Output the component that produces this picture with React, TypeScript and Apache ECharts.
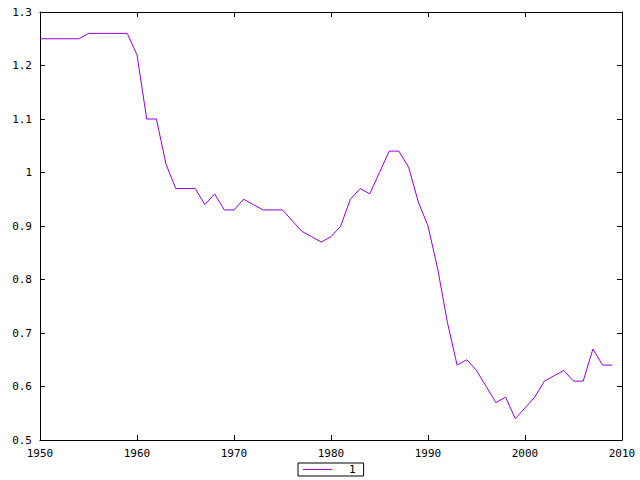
import React, { useEffect, useRef } from "react";
import * as echarts from "echarts";

const years: number[] = [
  1950, 1951, 1952, 1953, 1954, 1955, 1956, 1957, 1958, 1959,
  1960, 1961, 1962, 1963, 1964, 1965, 1966, 1967, 1968, 1969,
  1970, 1971, 1972, 1973, 1974, 1975, 1976, 1977, 1978, 1979,
  1980, 1981, 1982, 1983, 1984, 1985, 1986, 1987, 1988, 1989,
  1990, 1991, 1992, 1993, 1994, 1995, 1996, 1997, 1998, 1999,
  2000, 2001, 2002, 2003, 2004, 2005, 2006, 2007, 2008, 2009,
];

const values: number[] = [
  1.25, 1.25, 1.25, 1.25, 1.25, 1.26, 1.26, 1.26, 1.26, 1.26,
  1.22, 1.10, 1.10, 1.015, 0.97, 0.97, 0.97, 0.94, 0.96, 0.93,
  0.93, 0.95, 0.94, 0.93, 0.93, 0.93, 0.91, 0.89, 0.88, 0.87,
  0.88, 0.90, 0.95, 0.97, 0.96, 1.00, 1.04, 1.04, 1.01, 0.945,
  0.90, 0.82, 0.72, 0.64, 0.65, 0.63, 0.60, 0.57, 0.58, 0.54,
  0.56, 0.58, 0.61, 0.62, 0.63, 0.61, 0.61, 0.67, 0.64, 0.64,
];

const seriesName = "1";
const xTicks = { min: 1950, max: 2010, interval: 10 };
const yTicks = { min: 0.5, max: 1.3, interval: 0.1 };

const FONT = "DejaVu Sans Mono";
const LINE_COLOR = "#9400d3";

export default function App() {
  const ref = useRef<HTMLDivElement>(null);

  useEffect(() => {
    if (!ref.current) return;
    const chart = echarts.init(ref.current, undefined, { renderer: "svg" });
    const axisLine = { show: true, lineStyle: { color: "#000", width: 1 } };
    const axisTick = { show: true, inside: true, length: 5, lineStyle: { color: "#000", width: 1 } };
    chart.setOption({
      animation: false,
      backgroundColor: "#fff",
      grid: { left: 40, right: 18, top: 12, bottom: 40, containLabel: false },
      legend: {
        data: [{ name: seriesName, icon: "rect" }],
        left: 298,
        top: 463,
        orient: "horizontal",
        borderColor: "#000",
        borderWidth: 1,
        borderRadius: 0,
        padding: [0, 8, 0, 5],
        itemWidth: 29,
        itemHeight: 1,
        itemStyle: { color: LINE_COLOR, borderWidth: 0 },
        textStyle: {
          fontFamily: FONT,
          fontSize: 11,
          color: "#000",
          padding: [0, 0, 0, 12],
          lineHeight: 13,
        },
      },
      xAxis: [
        {
          type: "value",
          min: xTicks.min,
          max: xTicks.max,
          interval: xTicks.interval,
          position: "bottom",
          axisLine,
          axisTick,
          splitLine: { show: false },
          axisLabel: {
            color: "#000",
            fontFamily: FONT,
            fontSize: 11,
            margin: 8,
            formatter: (v: number) => String(v),
          },
        },
        {
          type: "value",
          min: xTicks.min,
          max: xTicks.max,
          interval: xTicks.interval,
          position: "top",
          axisLine,
          axisTick,
          splitLine: { show: false },
          axisLabel: { show: false },
        },
      ],
      yAxis: [
        {
          type: "value",
          min: yTicks.min,
          max: yTicks.max,
          interval: yTicks.interval,
          position: "left",
          axisLine,
          axisTick,
          splitLine: { show: false },
          axisLabel: {
            color: "#000",
            fontFamily: FONT,
            fontSize: 11,
            margin: 8,
            formatter: (v: number) => String(Math.round(v * 10) / 10),
          },
        },
        {
          type: "value",
          min: yTicks.min,
          max: yTicks.max,
          interval: yTicks.interval,
          position: "right",
          axisLine,
          axisTick,
          splitLine: { show: false },
          axisLabel: { show: false },
        },
      ],
      series: [
        {
          name: seriesName,
          type: "line",
          xAxisIndex: 0,
          yAxisIndex: 0,
          data: years.map((y, i) => [y, values[i]]),
          showSymbol: false,
          symbol: "none",
          lineStyle: { color: LINE_COLOR, width: 1 },
          itemStyle: { color: LINE_COLOR },
        },
      ],
    });
    return () => chart.dispose();
  }, []);

  return <div ref={ref} style={{ width: 640, height: 480, position: "absolute", left: 0, top: 0 }} />;
}
